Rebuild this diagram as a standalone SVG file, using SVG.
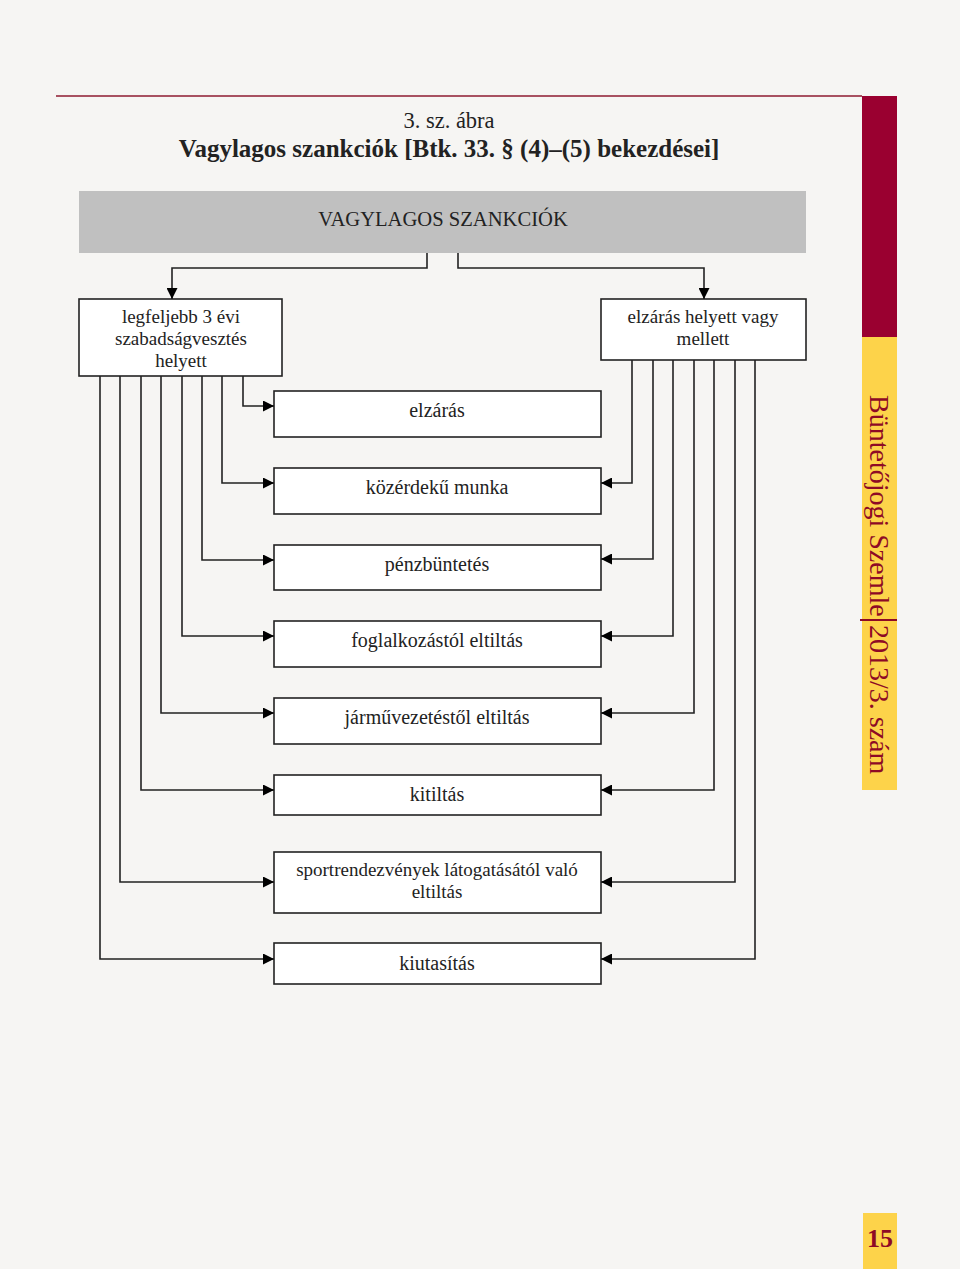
<svg xmlns="http://www.w3.org/2000/svg" width="960" height="1269" viewBox="0 0 960 1269">
<defs>
<marker id="ar" viewBox="0 0 10 10" refX="10" refY="5" markerWidth="11" markerHeight="11" markerUnits="userSpaceOnUse" orient="auto">
<path d="M0,0 L10,5 L0,10 Z" fill="#000"/>
</marker>
<style>
.box{fill:#fff;stroke:#222;stroke-width:1.6}
.t{font-family:"Liberation Serif","Times New Roman",serif;font-size:20px;fill:#222;text-anchor:middle}
.s{font-size:19px}
.c{fill:none;stroke:#222;stroke-width:1.6;marker-end:url(#ar)}
.side{font-family:"Liberation Serif","Times New Roman",serif;font-size:28px;fill:#8e0a25}
</style>
</defs>
<rect width="960" height="1269" fill="#f6f5f3"/>
<line x1="56" y1="96" x2="862" y2="96" stroke="#8e1a30" stroke-width="1.5"/>
<rect x="862" y="96" width="35" height="241" fill="#9a0030"/>
<rect x="862" y="337" width="35" height="453" fill="#fdd34a"/>
<text class="side" transform="translate(870,395) rotate(90)">Büntetőjogi Szemle</text>
<line x1="860" y1="620" x2="897" y2="620" stroke="#8e0a25" stroke-width="1.8"/>
<text class="side" transform="translate(870,625) rotate(90)">2013/3. szám</text>
<rect x="863" y="1213" width="34" height="56" fill="#fdd34a"/>
<text x="880" y="1247" text-anchor="middle" font-family="Liberation Serif, serif" font-weight="bold" font-size="26" fill="#8e0a25">15</text>
<text x="449" y="128" text-anchor="middle" font-family="Liberation Serif, serif" font-size="22.5" fill="#222">3. sz. ábra</text>
<text x="449" y="157" text-anchor="middle" font-family="Liberation Serif, serif" font-weight="bold" font-size="25" fill="#222">Vagylagos szankciók [Btk. 33. § (4)–(5) bekezdései]</text>

<g id="root"><rect x="79" y="191" width="727" height="62" fill="#c0c0c0"/><text class="t" x="443" y="226" style="font-size:20.6px">VAGYLAGOS SZANKCIÓK</text></g>
<g id="left"><rect class="box" x="79" y="299" width="203" height="77"/><text class="t s" x="181" y="323">legfeljebb 3 évi</text><text class="t s" x="181" y="345">szabadságvesztés</text><text class="t s" x="181" y="367">helyett</text></g>
<g id="right"><rect class="box" x="601" y="299" width="205" height="61"/><text class="t s" x="703" y="323">elzárás helyett vagy</text><text class="t s" x="703" y="345">mellett</text></g>
<g id="n1"><rect class="box" x="274" y="391" width="327" height="46"/><text class="t" x="437" y="417">elzárás</text></g>
<g id="n2"><rect class="box" x="274" y="468" width="327" height="46"/><text class="t" x="437" y="494">közérdekű munka</text></g>
<g id="n3"><rect class="box" x="274" y="545" width="327" height="45"/><text class="t" x="437" y="571">pénzbüntetés</text></g>
<g id="n4"><rect class="box" x="274" y="621" width="327" height="46"/><text class="t" x="437" y="647">foglalkozástól eltiltás</text></g>
<g id="n5"><rect class="box" x="274" y="698" width="327" height="46"/><text class="t" x="437" y="724">járművezetéstől eltiltás</text></g>
<g id="n6"><rect class="box" x="274" y="775" width="327" height="40"/><text class="t" x="437" y="801">kitiltás</text></g>
<g id="n7"><rect class="box" x="274" y="852" width="327" height="61"/><text class="t s" x="437" y="876">sportrendezvények látogatásától való</text><text class="t s" x="437" y="898">eltiltás</text></g>
<g id="n8"><rect class="box" x="274" y="943" width="327" height="41"/><text class="t" x="437" y="970">kiutasítás</text></g>

<g id="connectors">
<path class="c" d="M427,253 V268 H172 V299"/>
<path class="c" d="M458,253 V268 H704 V299"/>
<path class="c" d="M243,376 V406 H274"/>
<path class="c" d="M222,376 V483 H274"/>
<path class="c" d="M202,376 V560 H274"/>
<path class="c" d="M182,376 V636 H274"/>
<path class="c" d="M161,376 V713 H274"/>
<path class="c" d="M141,376 V790 H274"/>
<path class="c" d="M120,376 V882 H274"/>
<path class="c" d="M100,376 V959 H274"/>
<path class="c" d="M632,360 V483 H601"/>
<path class="c" d="M653,360 V559 H601"/>
<path class="c" d="M673,360 V636 H601"/>
<path class="c" d="M694,360 V713 H601"/>
<path class="c" d="M714,360 V790 H601"/>
<path class="c" d="M735,360 V882 H601"/>
<path class="c" d="M755,360 V959 H601"/>
</g>
</svg>
